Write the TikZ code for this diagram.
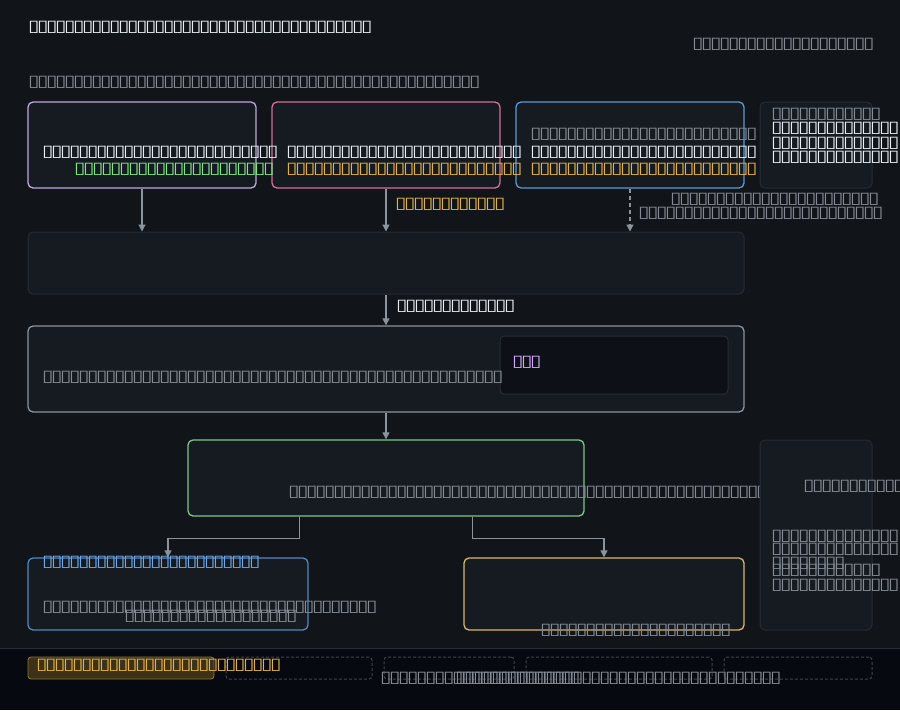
\documentclass[tikz,border=0pt]{standalone}
\usepackage{fontspec}
\usepackage{graphicx}
\newfontfamily\glyphfont{DejaVu Sans}
\usetikzlibrary{arrows.meta}

% a run of n placeholder glyphs on a fixed 9pt pitch
\ExplSyntaxOn
\cs_new:Npn \boxrun #1 { \prg_replicate:nn {#1} { \makebox[9pt][l]{\scalebox{1.3}[1]{▯}} } }
\ExplSyntaxOff

\definecolor{bgmain}{HTML}{111419}
\definecolor{bgstrip}{HTML}{070910}
\definecolor{cardfill}{HTML}{161B22}
\definecolor{cardedge}{HTML}{262C35}
\definecolor{innerfill}{HTML}{0D1117}
\definecolor{txtwhite}{HTML}{E6EDF3}
\definecolor{txtgray}{HTML}{858B94}
\definecolor{txtgreen}{HTML}{7EE787}
\definecolor{txtyellow}{HTML}{E3B341}
\definecolor{txtlav}{HTML}{D2A8FF}
\definecolor{txtblue}{HTML}{6EA8E8}
\definecolor{edgepurple}{HTML}{C3A6DC}
\definecolor{edgepink}{HTML}{D4709A}
\definecolor{edgeblue}{HTML}{5B9BD5}
\definecolor{edgegray}{HTML}{8B939C}
\definecolor{edgegreen}{HTML}{7BC88A}
\definecolor{edgegold}{HTML}{D8B868}
\definecolor{edgeblue2}{HTML}{4F88C6}
\definecolor{flowgray}{HTML}{8B939C}
\definecolor{legfill}{HTML}{3D3219}
\definecolor{legedge}{HTML}{8A7334}
\definecolor{dashedge}{HTML}{3E444E}

\tikzset{
  card/.style={draw, fill=cardfill, rounded corners=5pt, line width=1.3pt, inner sep=0pt},
  panel/.style={draw=cardedge, fill=cardfill, rounded corners=5pt, line width=1pt, inner sep=0pt},
  txt/.style={anchor=west, inner sep=0pt, font=\glyphfont\fontsize{16}{18}\selectfont},
  flow/.style={draw=flowgray, line width=1.2pt, -{Triangle[length=7pt,width=7pt]}},
  legslot/.style={draw=dashedge, dash pattern=on 3pt off 2pt, rounded corners=3pt, line width=1pt, minimum width=#1, minimum height=22pt, inner sep=0pt},
}

\begin{document}
\begin{tikzpicture}[x=1pt,y=-1pt]
\useasboundingbox (0,0) rectangle (900,710);
\fill[bgmain] (0,0) rectangle (900,710);
\fill[bgstrip] (0,648) rectangle (900,710);
\draw[cardedge, line width=1pt] (0,648) -- (900,648);

% header
\node[txt, text=txtwhite] (title) at (28,27) {\boxrun{38}};
\node[txt, text=txtgray] (subtitle) at (692,44) {\boxrun{20}};
\node[txt, text=txtgray] (intro) at (28,82) {\boxrun{50}};

% input cards
\node[card, draw=edgepurple, minimum width=228pt, minimum height=86pt] (srcA) at (142,145) {};
\node[card, draw=edgepink, minimum width=228pt, minimum height=86pt] (srcB) at (386,145) {};
\node[card, draw=edgeblue, minimum width=228pt, minimum height=86pt] (srcC) at (630,145) {};
\node[panel, minimum width=112pt, minimum height=86pt] (noteTop) at (816,145) {};

\node[txt, text=txtwhite] (aName) at (42,152) {\boxrun{26}};
\node[txt, text=txtgreen] (aSub) at (74,169) {\boxrun{22}};
\node[txt, text=txtwhite] (bName) at (286,152) {\boxrun{26}};
\node[txt, text=txtyellow] (bSub) at (286,169) {\boxrun{26}};
\node[txt, text=txtgray] (cTag) at (530,134) {\boxrun{25}};
\node[txt, text=txtwhite] (cName) at (530,152) {\boxrun{25}};
\node[txt, text=txtyellow] (cSub) at (530,169) {\boxrun{25}};

\node[txt, text=txtgray] (nHead) at (771,114) {\boxrun{12}};
\node[txt, text=txtwhite] (nL1) at (771,128) {\boxrun{14}};
\node[txt, text=txtwhite] (nL2) at (771,143) {\boxrun{14}};
\node[txt, text=txtwhite] (nL3) at (771,157) {\boxrun{14}};

% merge band
\node[panel, minimum width=716pt, minimum height=62pt] (band) at (386,263) {};

\draw[flow] (srcA.south) -- (srcA.south |- band.north);
\draw[flow] (srcB.south) -- (srcB.south |- band.north);
\draw[flow, dash pattern=on 4pt off 3pt] (srcC.south) -- (srcC.south |- band.north);
\node[txt, text=txtyellow] (bLabel) at (395,204) {\boxrun{12}};
\node[txt, text=txtgray] (cLabel1) at (670,199) {\boxrun{23}};
\node[txt, text=txtgray] (cLabel2) at (638,213) {\boxrun{27}};

% processing stage
\node[card, draw=edgegray, minimum width=716pt, minimum height=86pt] (stage) at (386,369) {};
\node[draw=cardedge, fill=innerfill, rounded corners=4pt, line width=1pt, minimum width=228pt, minimum height=58pt, inner sep=0pt] (inset) at (614,365) {};
\draw[flow] (band.south) -- (stage.north);
\node[txt, text=txtwhite] (stageLabel) at (396,306) {\boxrun{13}};
\node[txt, text=txtgray] (stageText) at (42,377) {\boxrun{51}};
\node[txt, text=txtlav] (insetText) at (512,362) {\boxrun{3}};

% decision card
\node[card, draw=edgegreen, minimum width=396pt, minimum height=76pt] (decide) at (386,478) {};
\draw[flow] (stage.south) -- (decide.north);
\node[txt, text=txtgray] (decideText) at (288,492) {\boxrun{53}};

% side panel
\node[panel, minimum width=112pt, minimum height=190pt] (noteSide) at (816,535) {};
\node[txt, text=txtgray] (sHead) at (803,486) {\boxrun{11}};
\node[txt, text=txtgray] (sL1) at (771,536) {\boxrun{14}};
\node[txt, text=txtgray] (sL2) at (771,549) {\boxrun{14}};
\node[txt, text=txtgray] (sL3) at (771,563) {\boxrun{8}};
\node[txt, text=txtgray] (sL4) at (771,570) {\boxrun{12}};
\node[txt, text=txtgray] (sL5) at (771,585) {\boxrun{14}};

% outcomes
\node[card, draw=edgeblue2, minimum width=280pt, minimum height=72pt] (outL) at (168,594) {};
\node[card, draw=edgegold, minimum width=280pt, minimum height=72pt] (outR) at (604,594) {};
\draw[flow] ([xshift=112pt]decide.south west) -- ++(0,22) -| (outL.north);
\draw[flow] ([xshift=-112pt]decide.south east) -- ++(0,22) -| (outR.north);
\node[txt, text=txtblue] (lHead) at (42,562) {\boxrun{24}};
\node[txt, text=txtgray] (lText) at (42,607) {\boxrun{37}};
\node[txt, text=txtgray] (lNote) at (124,616) {\boxrun{19}};
\node[txt, text=txtgray] (rNote) at (540,630) {\boxrun{21}};

% legend strip
\node[draw=legedge, fill=legfill, rounded corners=3pt, line width=0.9pt, minimum width=186pt, minimum height=22pt, inner sep=0pt] (legA) at (121,668) {};
\node[legslot=146pt] (legB) at (299,668) {};
\node[legslot=130pt] (legC) at (449,668) {};
\node[legslot=186pt] (legD) at (619,668) {};
\node[legslot=148pt] (legE) at (798,668) {};
\node[txt, text=txtyellow] (legText) at (36,665) {\boxrun{27}};
\node[txt, text=txtgray] (footA) at (380,678) {\boxrun{22}};
\node[txt, text=txtgray] (footB) at (455,678) {\boxrun{36}};
\end{tikzpicture}
\end{document}
